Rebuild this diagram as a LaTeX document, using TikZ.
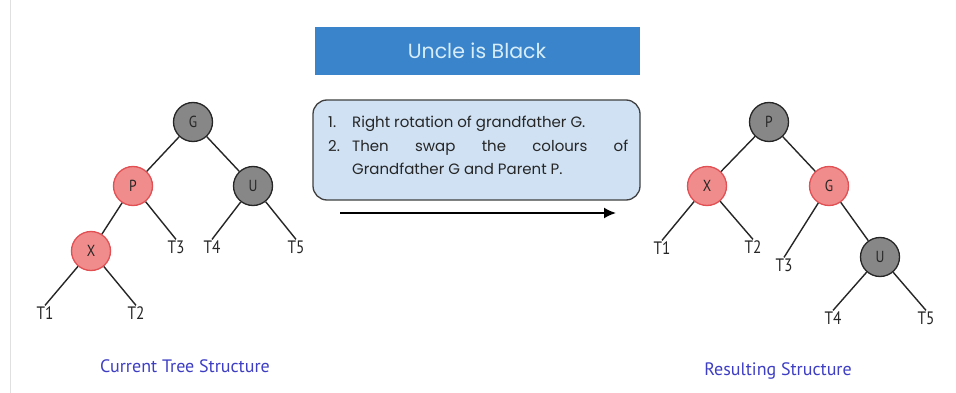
\documentclass[tikz,border=0pt]{standalone}
\usepackage{fontspec}
\usetikzlibrary{arrows.meta}
\setmainfont{Poppins}
\newfontfamily\treefont[FakeStretch=0.85]{PT Sans}
\newfontfamily\capfont{PT Sans}
\definecolor{titleblue}{RGB}{58,132,204}
\definecolor{titletext}{RGB}{215,238,250}
\definecolor{boxfill}{RGB}{207,225,243}
\definecolor{nodegray}{RGB}{135,135,135}
\definecolor{nodered}{RGB}{240,140,140}
\definecolor{nodeedge}{RGB}{226,80,84}
\definecolor{captionblue}{RGB}{62,62,196}
\begin{document}
\begin{tikzpicture}[x=1pt,y=-1pt,
  blacknode/.style={circle,draw=black!85,line width=1.3pt,fill=nodegray,minimum size=39pt,inner sep=0pt,font=\treefont\fontsize{16}{16}\selectfont,text=black!85},
  rednode/.style={circle,draw=nodeedge,line width=1.3pt,fill=nodered,minimum size=39pt,inner sep=0pt,font=\treefont\fontsize{16}{16}\selectfont,text=black!85},
  leaf/.style={font=\treefont\fontsize{18}{18}\selectfont,text=black!85,inner sep=1pt},
  edge/.style={draw=black!85,line width=1.4pt},
  caption/.style={font=\capfont\fontsize{18}{18}\selectfont,text=captionblue}]
\useasboundingbox (0,0) rectangle (956,393);
\fill[white] (0,0) rectangle (956,393);
\draw[black!12,line width=1pt] (10,0) -- (10,393);
% title
\node[fill=titleblue,minimum width=325pt,minimum height=48pt,text=titletext,font=\fontsize{20.5}{20.5}\selectfont] (title) at (477,51) {Uncle is Black};
% text box
\node[draw=black!75,line width=1.3pt,fill=boxfill,rounded corners=14pt,minimum width=327pt,minimum height=100pt] (box) at (476.5,150) {};
\node[anchor=north west,inner sep=0pt,text=black!85,font=\fontsize{15}{23.5}\selectfont] (boxtext) at (328,116)
 {\parbox{300pt}{%
 \hbox to 300pt{\hbox to 24pt{1.\hfil}Right rotation of grandfather G.\hfil}\par
 \hbox to 300pt{\hbox to 24pt{2.\hfil}Then\hfill swap\hfill the\hfill colours\hfill of}\par
 \hbox to 300pt{\hbox to 24pt{\hfil}Grandfather G and Parent P.\hfil}}};
% arrow
\coordinate (a1) at (340,213);
\coordinate (a2) at (616,213);
\draw[line width=1.8pt,-{Latex[length=12pt,width=11pt]}] (a1) -- (a2);
% left tree
\node[blacknode] (G) at (193,122) {G};
\node[rednode] (P) at (133,186) {P};
\node[blacknode] (U) at (253,186) {U};
\node[rednode] (X) at (91,251) {X};
\node[leaf] (T3) at (176,247) {T3};
\node[leaf] (T4) at (212,247) {T4};
\node[leaf] (T5) at (296,247) {T5};
\node[leaf] (T1) at (45,313) {T1};
\node[leaf] (T2) at (136,313) {T2};
\draw[edge] (G) -- (P);
\draw[edge] (G) -- (U);
\draw[edge] (P) -- (X);
\draw[edge] (P) -- (T3.north);
\draw[edge] (U) -- (T4.north);
\draw[edge] (U) -- (T5.north);
\draw[edge] (X) -- (T1.north);
\draw[edge] (X) -- (T2.north);
% right tree
\node[blacknode] (P2) at (769,122) {P};
\node[rednode] (X2) at (707,186) {X};
\node[rednode] (G2) at (829,186) {G};
\node[blacknode] (U2) at (880,257) {U};
\node[leaf] (R1) at (662,248) {T1};
\node[leaf] (R2) at (753,247) {T2};
\node[leaf] (R3) at (784,265) {T3};
\node[leaf] (R4) at (833,318) {T4};
\node[leaf] (R5) at (926,318) {T5};
\draw[edge] (P2) -- (X2);
\draw[edge] (P2) -- (G2);
\draw[edge] (X2) -- (R1.north);
\draw[edge] (X2) -- (R2.north);
\draw[edge] (G2) -- (R3.north);
\draw[edge] (G2) -- (U2);
\draw[edge] (U2) -- (R4.north);
\draw[edge] (U2) -- (R5.north);
% captions
\node[caption] (c1) at (185,366) {Current Tree Structure};
\node[caption] (c2) at (778,371) {Resulting Structure};
\end{tikzpicture}
\end{document}
